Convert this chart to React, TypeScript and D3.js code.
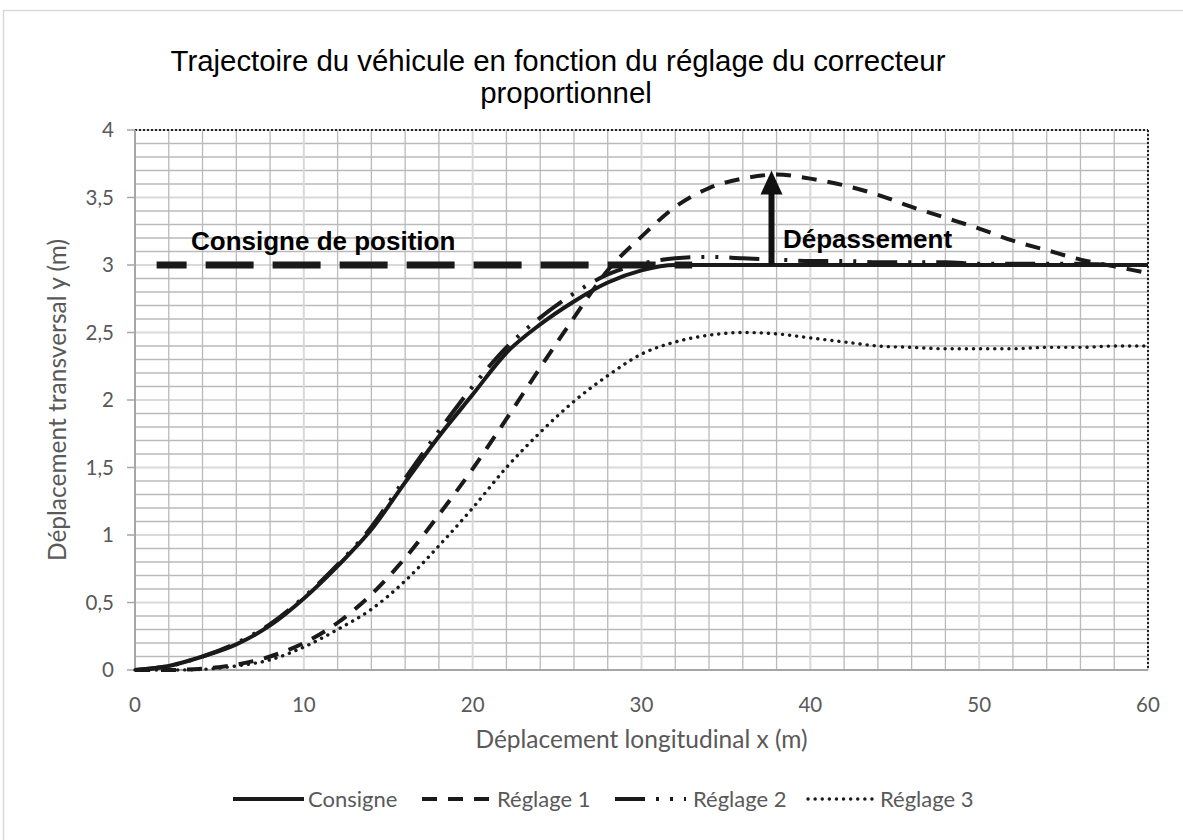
import * as d3 from "d3";

const xs = [0, 2, 4, 6, 8, 10, 12, 14, 16, 18, 20, 22, 24, 26, 28, 30, 32, 34, 36, 38, 40, 42, 44, 46, 48, 50, 52, 54, 56, 58, 60];
const consigne = [0, 0.03, 0.1, 0.19, 0.33, 0.53, 0.77, 1.04, 1.39, 1.73, 2.04, 2.35, 2.56, 2.73, 2.87, 2.96, 3.0, 3.0, 3.0, 3.0, 3.0, 3.0, 3.0, 3.0, 3.0, 3.0, 3.0, 3.0, 3.0, 3.0, 3.0];
const reglage1 = [0, 0, 0.01, 0.04, 0.1, 0.2, 0.35, 0.56, 0.83, 1.15, 1.49, 1.86, 2.24, 2.61, 2.96, 3.21, 3.43, 3.57, 3.64, 3.67, 3.64, 3.59, 3.52, 3.43, 3.35, 3.27, 3.18, 3.11, 3.04, 2.99, 2.94];
const reglage2 = [0, 0.03, 0.1, 0.2, 0.34, 0.54, 0.78, 1.06, 1.42, 1.77, 2.1, 2.39, 2.61, 2.79, 2.93, 3.01, 3.05, 3.06, 3.05, 3.04, 3.03, 3.03, 3.02, 3.02, 3.02, 3.01, 3.01, 3.01, 3.01, 3.0, 3.0];
const reglage3 = [0, 0, 0.005, 0.03, 0.075, 0.17, 0.3, 0.45, 0.66, 0.92, 1.2, 1.5, 1.76, 1.99, 2.18, 2.34, 2.43, 2.48, 2.5, 2.49, 2.46, 2.43, 2.4, 2.39, 2.38, 2.38, 2.38, 2.39, 2.39, 2.4, 2.4];

const seriesNames = ["Consigne", "Réglage 1", "Réglage 2", "Réglage 3"];
const yTicks = [0, 0.5, 1, 1.5, 2, 2.5, 3, 3.5, 4];
const xTicks = [0, 10, 20, 30, 40, 50, 60];

// annotations
const positionLevel = 3;
const positionRange = [1.28, 33];
const overshootX = 37.7;
const overshootRange = [3.0, 3.7];

const width = 1183;
const height = 840;
const margin = { left: 135, right: 1148, top: 130, bottom: 670 };

const fr = d3.formatLocale({ decimal: ",", thousands: " ", grouping: [3], currency: ["", " €"] });
const fmt = fr.format("~g");

const styles = [
  { dash: null, w: 4, cap: "butt" },
  { dash: "15,11", w: 4, cap: "butt" },
  { dash: "30,11,3,11,3,11", w: 4, cap: "butt" },
  { dash: "0.1,7", w: 3.4, cap: "round" },
];

export default function App() {
  const x = d3.scaleLinear().domain([0, 60]).range([margin.left, margin.right]);
  const y = d3.scaleLinear().domain([0, 4]).range([margin.bottom, margin.top]);

  const all = [consigne, reglage1, reglage2, reglage3];
  const line = d3
    .line<number>()
    .x((_, i) => x(xs[i]))
    .y((d) => y(d))
    .curve(d3.curveMonotoneX);

  const vGrid = d3.range(0, 61, 2);
  const hGrid = d3.range(0, 41).map((v) => v / 10);

  const axisFont = "Lato, 'Open Sans', sans-serif";
  const grey = "#595959";

  const legendItems = [
    { lx: 233, tx: 308 },
    { lx: 422, tx: 497 },
    { lx: 615, tx: 693 },
    { lx: 808, tx: 880 },
  ];

  return (
    <svg width={width} height={height} style={{ position: "absolute", left: 0, top: 0, background: "#fff" }}>
      <rect x={3.5} y={10.5} width={1300} height={900} fill="#fff" stroke="#d9d9d9" strokeWidth={1.5} />

      <text x={558} y={71} textAnchor="middle" fontFamily="'Liberation Sans', Arial, sans-serif" fontSize={29.4} fill="#000">
        Trajectoire du véhicule en fonction du réglage du correcteur
      </text>
      <text x={566} y={103} textAnchor="middle" fontFamily="'Liberation Sans', Arial, sans-serif" fontSize={29.4} fill="#000">
        proportionnel
      </text>

      {/* grid */}
      <g>
        {hGrid.map((v) => {
          const major = Math.abs(v * 2 - Math.round(v * 2)) < 1e-6;
          return (
            <line key={"h" + v} x1={x(0)} x2={x(60)} y1={y(v)} y2={y(v)}
              stroke={major ? "#d9d9d9" : "#bababa"} strokeWidth={major ? 2 : 1.3} />
          );
        })}
        {vGrid.map((v) => {
          const major = v % 10 === 0;
          return (
            <line key={"v" + v} x1={x(v)} x2={x(v)} y1={y(0)} y2={y(4)}
              stroke={major ? "#d9d9d9" : "#bababa"} strokeWidth={major ? 2 : 1.3} />
          );
        })}
      </g>

      {/* frame: dotted top and right */}
      <line x1={x(0)} x2={x(60)} y1={y(4)} y2={y(4)} stroke="#222" strokeWidth={2} strokeDasharray="2,2" />
      <line x1={x(60)} x2={x(60)} y1={y(4)} y2={y(0)} stroke="#222" strokeWidth={2} strokeDasharray="2,2" />
      <line x1={x(0)} x2={x(0)} y1={y(4)} y2={y(0)} stroke="#a6a6a6" strokeWidth={2} />
      <line x1={x(0)} x2={x(60)} y1={y(0)} y2={y(0)} stroke="#a6a6a6" strokeWidth={2} />

      {/* y axis */}
      {yTicks.map((t) => (
        <g key={"yt" + t}>
          <line x1={x(0) - 8} x2={x(0)} y1={y(t)} y2={y(t)} stroke="#a6a6a6" strokeWidth={1.5} />
          <text x={114} y={y(t)} dy="0.35em" textAnchor="end" fontFamily={axisFont} fontSize={20.5} fill={grey}>
            {fmt(t)}
          </text>
        </g>
      ))}
      {xTicks.map((t) => (
        <text key={"xt" + t} x={x(t)} y={712} textAnchor="middle" fontFamily={axisFont} fontSize={20.5} fill={grey}>
          {t}
        </text>
      ))}
      <text x={(margin.left + margin.right) / 2} y={748} textAnchor="middle" fontFamily={axisFont} fontSize={24.5} fill={grey}>
        Déplacement longitudinal x (m)
      </text>
      <text transform={`translate(66, ${(margin.top + margin.bottom) / 2}) rotate(-90)`} textAnchor="middle"
        fontFamily={axisFont} fontSize={24.5} fill={grey}>
        Déplacement transversal y (m)
      </text>

      {/* consigne de position */}
      <line x1={x(positionRange[0])} x2={x(positionRange[1])} y1={y(positionLevel)} y2={y(positionLevel)}
        stroke="#1a1a1a" strokeWidth={7} strokeDasharray="48,19" strokeDashoffset={18} />

      {/* series */}
      {all.map((vals, i) => (
        <path key={"s" + i} d={line(vals) || ""} fill="none" stroke="#1a1a1a" strokeWidth={styles[i].w}
          strokeDasharray={styles[i].dash || undefined} strokeLinecap={styles[i].cap as any} />
      ))}

      {/* overshoot arrow */}
      <line x1={x(overshootX)} x2={x(overshootX)} y1={y(overshootRange[0])} y2={y(overshootRange[1]) + 20}
        stroke="#111" strokeWidth={6} />
      <path d={`M${x(overshootX)},${y(overshootRange[1])} L${x(overshootX) - 11},${y(overshootRange[1]) + 24} L${x(overshootX) + 11},${y(overshootRange[1]) + 24} Z`} fill="#111" />

      <text x={191} y={250} fontFamily="'Liberation Sans', Arial, sans-serif" fontWeight="bold" fontSize={26} fill="#000">
        Consigne de position
      </text>
      <text x={783} y={248} fontFamily="'Liberation Sans', Arial, sans-serif" fontWeight="bold" fontSize={26} fill="#000">
        Dépassement
      </text>

      {/* legend */}
      {legendItems.map((it, i) => (
        <g key={"lg" + i}>
          <line x1={it.lx} x2={it.lx + 71} y1={799} y2={799} stroke="#1a1a1a" strokeWidth={styles[i].w}
            strokeDasharray={styles[i].dash || undefined} strokeLinecap={styles[i].cap as any} />
          <text x={it.tx} y={799} dy="0.35em" fontFamily={axisFont} fontSize={22} fill={grey}>
            {seriesNames[i]}
          </text>
        </g>
      ))}
    </svg>
  );
}
